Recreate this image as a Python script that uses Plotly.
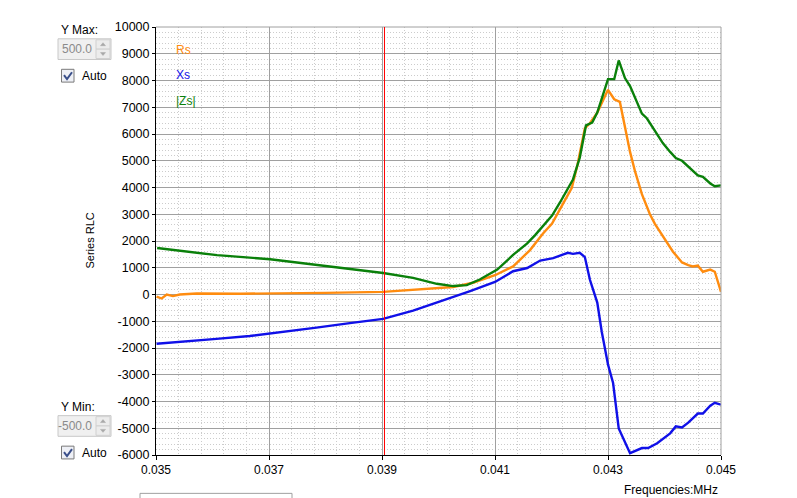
import plotly.graph_objects as go

# ---------------- data ----------------
zs_freq = [0.03502, 0.03608, 0.03702, 0.03785, 0.03856, 0.03902, 0.03955, 0.03997, 0.04026, 0.04050,
           0.04073, 0.04104, 0.04132, 0.04157, 0.04171, 0.04183, 0.04201, 0.04215, 0.04229, 0.04238,
           0.04250, 0.04261, 0.04272, 0.04281, 0.04300, 0.04311, 0.04319, 0.04330, 0.04339, 0.04348,
           0.04360, 0.04369, 0.04380, 0.04397, 0.04410, 0.04420, 0.04431, 0.04442, 0.04459, 0.04468,
           0.04481, 0.04489, 0.04500]
zs_vals = [1740, 1470, 1320, 1100, 915, 805, 620, 400, 315, 350,
           560, 930, 1480, 1910, 2220, 2520, 2950, 3440, 3990, 4300,
           5110, 6320, 6430, 6800, 8050, 8050, 8750, 8090, 7790, 7350,
           6760, 6580, 6210, 5660, 5330, 5100, 5000, 4780, 4450, 4400,
           4150, 4050, 4080]

rs_freq = [0.03501, 0.03510, 0.03519, 0.03530, 0.03542, 0.03572, 0.03650, 0.03725, 0.03800, 0.03902,
           0.03955, 0.04026, 0.04061, 0.04100, 0.04132, 0.04162, 0.04185, 0.04201, 0.04220, 0.04236,
           0.04246, 0.04259, 0.04268, 0.04281, 0.04300, 0.04311, 0.04321, 0.04330, 0.04339, 0.04348,
           0.04360, 0.04374, 0.04383, 0.04415, 0.04431, 0.04442, 0.04450, 0.04459, 0.04468, 0.04481,
           0.04489, 0.04500]
rs_vals = [-80, -150, 0, -60, 0, 40, 30, 40, 60, 100,
           170, 280, 440, 720, 1050, 1660, 2280, 2650, 3380, 3990,
           4850, 6210, 6400, 6800, 7650, 7300, 7200, 6320, 5330, 4590,
           3750, 3010, 2640, 1600, 1200, 1100, 1050, 1080, 850, 930,
           850, 100]

xs_freq = [0.03501, 0.03548, 0.03607, 0.03666, 0.03725, 0.03784, 0.03843, 0.03902, 0.03955, 0.04015,
           0.04056, 0.04100, 0.04132, 0.04157, 0.04180, 0.04203, 0.04215, 0.04229, 0.04238, 0.04250,
           0.04259, 0.04268, 0.04281, 0.04289, 0.04300, 0.04309, 0.04319, 0.04339, 0.04360, 0.04371,
           0.04387, 0.04401, 0.04410, 0.04420, 0.04431, 0.04442, 0.04459, 0.04468, 0.04481, 0.04489,
           0.04500]
xs_vals = [-1840, -1770, -1660, -1550, -1400, -1240, -1070, -910, -600, -180,
           130, 470, 870, 990, 1270, 1360, 1440, 1560, 1520, 1560,
           1400, 550, -300, -1400, -2620, -3310, -5010, -5930, -5740, -5740,
           -5560, -5340, -5190, -4930, -4970, -4790, -4450, -4450, -4160, -4050,
           -4120]

x_ticks = [0.035, 0.037, 0.039, 0.041, 0.043, 0.045]
x_labels = ["0.035", "0.037", "0.039", "0.041", "0.043", "0.045"]
y_ticks = list(range(-6000, 10001, 1000))
y_labels = [str(v) for v in y_ticks]
marker_freq = 0.039044

# --------------- figure ---------------
OFF = 8  # browser body margin
W, H = 797 - OFF, 498 - OFF
# page-pixel plot box
L, R, T, B = 156, 721, 20, 455
FONT = "Liberation Sans, Arial, sans-serif"

def px(x):
    return (x - L) / (R - L)

def py(y):
    return (B - y) / (B - T)

fig = go.Figure()
fig.add_trace(go.Scatter(x=rs_freq, y=rs_vals, mode="lines", name="Rs",
                         line=dict(color="#ff8c0f", width=2.4)))
fig.add_trace(go.Scatter(x=xs_freq, y=xs_vals, mode="lines", name="Xs",
                         line=dict(color="#1010e8", width=2.4)))
fig.add_trace(go.Scatter(x=zs_freq, y=zs_vals, mode="lines", name="|Zs|",
                         line=dict(color="#0a800a", width=2.4)))

fig.update_layout(
    width=W, height=H,
    margin=dict(l=L - OFF, r=(W + OFF) - R, t=T - OFF, b=(H + OFF) - B),
    paper_bgcolor="white", plot_bgcolor="white",
    showlegend=False,
    font=dict(family=FONT, size=12, color="black"),
    xaxis=dict(range=[0.035, 0.045], tickvals=x_ticks, ticktext=x_labels,
               showgrid=True, gridcolor="#a0a0a0", gridwidth=1,
               showline=True, linecolor="black", linewidth=1,
               ticks="outside", ticklen=4, tickcolor="black",
               zeroline=False,
               tickfont=dict(family=FONT, size=12, color="black"),
               minor=dict(tick0=0.035, dtick=0.0004, showgrid=True,
                          gridcolor="#cccccc", griddash="1px,2px", gridwidth=1)),
    yaxis=dict(range=[-6000, 10000], tickvals=y_ticks, ticktext=y_labels,
               showgrid=True, gridcolor="#a0a0a0", gridwidth=1,
               showline=True, linecolor="black", linewidth=1,
               ticks="outside", ticklen=3, tickcolor="black",
               zeroline=False,
               tickfont=dict(family=FONT, size=12.5, color="black"),
               minor=dict(tick0=-6000, dtick=200, showgrid=True,
                          gridcolor="#cccccc", griddash="1px,2px", gridwidth=1)),
)

shapes = []
# top / right frame in gray
shapes.append(dict(type="line", xref="paper", yref="paper", x0=0, x1=1, y0=1, y1=1,
                   line=dict(color="#a0a0a0", width=1)))
shapes.append(dict(type="line", xref="paper", yref="paper", x0=1, x1=1, y0=0, y1=1,
                   line=dict(color="#a0a0a0", width=1)))
# red marker
shapes.append(dict(type="line", xref="x", yref="paper", x0=marker_freq, x1=marker_freq, y0=0, y1=1,
                   line=dict(color="#ff0000", width=1)))

annotations = []
# legend-like labels
for txt, col, ypix in [("Rs", "#ff8c0f", 43), ("Xs", "#1010e8", 69), ("|Zs|", "#0a800a", 95)]:
    annotations.append(dict(text=txt, xref="paper", yref="paper", x=px(174), y=py(ypix),
                            xanchor="left", yanchor="middle", showarrow=False,
                            font=dict(family=FONT, size=12, color=col)))
# axis titles
annotations.append(dict(text="Series RLC", xref="paper", yref="paper", x=px(90), y=py(237),
                        textangle=-90, xanchor="center", yanchor="middle", showarrow=False,
                        font=dict(family=FONT, size=11, color="black")))
annotations.append(dict(text="Frequencies:MHz", xref="paper", yref="paper", x=px(720), y=py(491),
                        xanchor="right", yanchor="middle", showarrow=False,
                        font=dict(family=FONT, size=12, color="black")))

# left UI controls (Y Max / Y Min)
def control(label, value, top):
    annotations.append(dict(text=label, xref="paper", yref="paper", x=px(59), y=py(top + 5),
                            xanchor="left", yanchor="middle", showarrow=False,
                            font=dict(family=FONT, size=12, color="black")))
    y0, y1 = top + 14, top + 35
    shapes.append(dict(type="rect", xref="paper", yref="paper", x0=px(58), x1=px(111),
                       y0=py(y1), y1=py(y0), fillcolor="#f0f0f0",
                       line=dict(color="#c8c8c8", width=1)))
    shapes.append(dict(type="rect", xref="paper", yref="paper", x0=px(96), x1=px(110),
                       y0=py(y0 + 10.5), y1=py(y0 + 1), fillcolor="#ececec",
                       line=dict(color="#d0d0d0", width=1)))
    shapes.append(dict(type="rect", xref="paper", yref="paper", x0=px(96), x1=px(110),
                       y0=py(y1 - 1), y1=py(y0 + 10.5), fillcolor="#ececec",
                       line=dict(color="#d0d0d0", width=1)))
    cx = 103
    ua = y0 + 4
    shapes.append(dict(type="path", xref="paper", yref="paper",
                       path=f"M {px(cx-2.5)},{py(ua+3)} L {px(cx+2.5)},{py(ua+3)} L {px(cx)},{py(ua)} Z",
                       fillcolor="#a8a8a8", line=dict(color="#a8a8a8", width=0.5)))
    da = y0 + 14
    shapes.append(dict(type="path", xref="paper", yref="paper",
                       path=f"M {px(cx-2.5)},{py(da)} L {px(cx+2.5)},{py(da)} L {px(cx)},{py(da+3)} Z",
                       fillcolor="#a8a8a8", line=dict(color="#a8a8a8", width=0.5)))
    annotations.append(dict(text=value, xref="paper", yref="paper", x=px(94), y=py((y0 + y1) / 2),
                            xanchor="right", yanchor="middle", showarrow=False,
                            font=dict(family=FONT, size=12, color="#8a8a8a")))
    c0 = top + 45
    shapes.append(dict(type="rect", xref="paper", yref="paper", x0=px(61.5), x1=px(74),
                       y0=py(c0 + 13), y1=py(c0), fillcolor="#eef0f6",
                       line=dict(color="#7a7a7a", width=1)))
    shapes.append(dict(type="path", xref="paper", yref="paper",
                       path=f"M {px(64)},{py(c0+6)} L {px(67)},{py(c0+10)} L {px(72)},{py(c0+3)}",
                       line=dict(color="#3a4f8a", width=2)))
    annotations.append(dict(text="Auto", xref="paper", yref="paper", x=px(80), y=py(c0 + 7),
                            xanchor="left", yanchor="middle", showarrow=False,
                            font=dict(family=FONT, size=12, color="black")))

control("Y Max:", "500.0", 18)
control("Y Min:", "-500.0", 401)

# bottom button outline
shapes.append(dict(type="rect", xref="paper", yref="paper", x0=px(140), x1=px(292),
                   y0=py(503), y1=py(494), fillcolor="rgba(0,0,0,0)",
                   line=dict(color="#a0a0a0", width=1)))

fig.update_layout(shapes=shapes, annotations=annotations)
fig.write_html("out.html")
